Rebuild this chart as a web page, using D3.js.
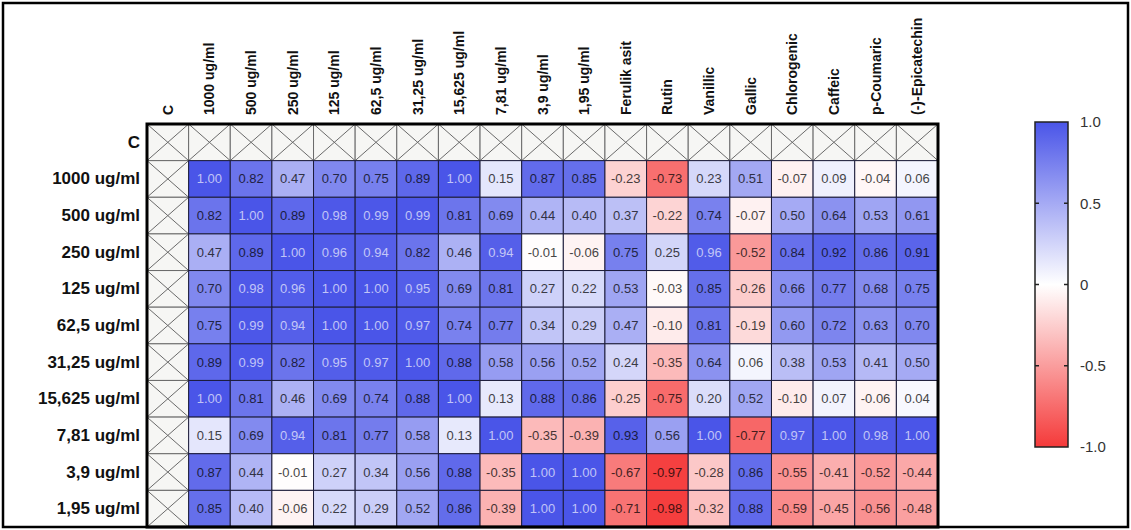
<!DOCTYPE html>
<html>
<head>
<meta charset="utf-8">
<script src="https://cdn.jsdelivr.net/npm/d3@7"></script>
<style>
html,body{margin:0;padding:0;background:#fff;}
svg{display:block;font-family:Arial,"Liberation Sans",sans-serif;}
</style>
</head>
<body>
<svg id="chart" width="1131" height="530"></svg>
<script>
const rowLabels = ["C","1000 ug/ml","500 ug/ml","250 ug/ml","125 ug/ml","62,5 ug/ml","31,25 ug/ml","15,625 ug/ml","7,81 ug/ml","3,9 ug/ml","1,95 ug/ml"];
const colLabels = ["C","1000 ug/ml","500 ug/ml","250 ug/ml","125 ug/ml","62,5 ug/ml","31,25 ug/ml","15,625 ug/ml","7,81 ug/ml","3,9 ug/ml","1,95 ug/ml","Ferulik asit","Rutin","Vanillic","Gallic","Chlorogenic","Caffeic","p-Coumaric","(-)-Epicatechin"];

// values per row (columns after "C")
const r1000  = [1.00,0.82,0.47,0.70,0.75,0.89,1.00,0.15,0.87,0.85,-0.23,-0.73,0.23,0.51,-0.07,0.09,-0.04,0.06];
const r500   = [0.82,1.00,0.89,0.98,0.99,0.99,0.81,0.69,0.44,0.40,0.37,-0.22,0.74,-0.07,0.50,0.64,0.53,0.61];
const r250   = [0.47,0.89,1.00,0.96,0.94,0.82,0.46,0.94,-0.01,-0.06,0.75,0.25,0.96,-0.52,0.84,0.92,0.86,0.91];
const r125   = [0.70,0.98,0.96,1.00,1.00,0.95,0.69,0.81,0.27,0.22,0.53,-0.03,0.85,-0.26,0.66,0.77,0.68,0.75];
const r62_5  = [0.75,0.99,0.94,1.00,1.00,0.97,0.74,0.77,0.34,0.29,0.47,-0.10,0.81,-0.19,0.60,0.72,0.63,0.70];
const r31_25 = [0.89,0.99,0.82,0.95,0.97,1.00,0.88,0.58,0.56,0.52,0.24,-0.35,0.64,0.06,0.38,0.53,0.41,0.50];
const r15_625= [1.00,0.81,0.46,0.69,0.74,0.88,1.00,0.13,0.88,0.86,-0.25,-0.75,0.20,0.52,-0.10,0.07,-0.06,0.04];
const r7_81  = [0.15,0.69,0.94,0.81,0.77,0.58,0.13,1.00,-0.35,-0.39,0.93,0.56,1.00,-0.77,0.97,1.00,0.98,1.00];
const r3_9   = [0.87,0.44,-0.01,0.27,0.34,0.56,0.88,-0.35,1.00,1.00,-0.67,-0.97,-0.28,0.86,-0.55,-0.41,-0.52,-0.44];
const r1_95  = [0.85,0.40,-0.06,0.22,0.29,0.52,0.86,-0.39,1.00,1.00,-0.71,-0.98,-0.32,0.88,-0.59,-0.45,-0.56,-0.48];
const legendTicks = [1.0,0.5,0,-0.5,-1.0];

const rowsData = [null,r1000,r500,r250,r125,r62_5,r31_25,r15_625,r7_81,r3_9,r1_95];

const svg = d3.select("#chart");
const font = 'Arial,"Liberation Sans",sans-serif';

const gx0 = 147, gx1 = 938, gy0 = 124, gy1 = 527;
const x = d3.scaleBand().domain(colLabels).range([gx0, gx1]);
const y = d3.scaleBand().domain(rowLabels).range([gy0, gy1]);
const color = d3.scaleLinear().domain([-1,0,1]).range(["#f53a3a","#ffffff","#4a55e8"]).interpolate(d3.interpolateRgb);

// build cells
const cells = [];
rowLabels.forEach((r,i)=>{
  colLabels.forEach((c,j)=>{
    const v = (i===0||j===0) ? null : rowsData[i][j-1];
    cells.push({r,c,v});
  });
});

const g = svg.append("g");
// crossed cells
const crossed = cells.filter(d=>d.v===null);
g.selectAll("rect.x").data(crossed).join("rect")
  .attr("x",d=>x(d.c)).attr("y",d=>y(d.r))
  .attr("width",x.bandwidth()).attr("height",y.bandwidth())
  .attr("fill","#f6f6f4").attr("stroke","#6a6a6a").attr("stroke-width",1);
g.selectAll("path.x").data(crossed).join("path")
  .attr("d",d=>{
    const a=x(d.c), b=y(d.r), w=x.bandwidth(), h=y.bandwidth();
    return `M${a},${b}L${a+w},${b+h}M${a+w},${b}L${a},${b+h}`;
  })
  .attr("stroke","#6a6a6a").attr("stroke-width",1).attr("fill","none");

// value cells
const vals = cells.filter(d=>d.v!==null);
g.selectAll("rect.v").data(vals).join("rect")
  .attr("x",d=>x(d.c)).attr("y",d=>y(d.r))
  .attr("width",x.bandwidth()).attr("height",y.bandwidth())
  .attr("fill",d=>color(d.v)).attr("stroke","#1c1c3a").attr("stroke-width",1);
g.selectAll("text.v").data(vals).join("text")
  .attr("x",d=>x(d.c)+x.bandwidth()/2).attr("y",d=>y(d.r)+y.bandwidth()/2)
  .attr("text-anchor","middle").attr("dominant-baseline","central")
  .attr("font-size",13).attr("font-family",font)
  .attr("fill",d=> d.v>=0.94 ? d3.interpolateRgb(color(d.v),"#ffffff")(0.65) : d3.interpolateRgb(color(d.v),"#000000")(0.72))
  .text(d=>d.v.toFixed(2));

// thick grid border
svg.append("rect").attr("x",gx0).attr("y",gy0).attr("width",gx1-gx0).attr("height",gy1-gy0)
  .attr("fill","none").attr("stroke","#000").attr("stroke-width",3);

// row labels
svg.selectAll("text.row").data(rowLabels).join("text")
  .attr("x",gx0-7).attr("y",d=>y(d)+y.bandwidth()/2)
  .attr("text-anchor","end").attr("dominant-baseline","central")
  .attr("font-size",17).attr("font-weight","bold").attr("font-family",font).attr("fill","#111")
  .text(d=>d);

// column labels
svg.selectAll("text.col").data(colLabels).join("text")
  .attr("transform",d=>`translate(${x(d)+x.bandwidth()/2},${gy0-9}) rotate(-90)`)
  .attr("text-anchor","start").attr("dominant-baseline","central")
  .attr("font-size",14).attr("font-weight","bold").attr("font-family",font).attr("fill","#111")
  .text(d=>d);

// legend
const ly = d3.scaleLinear().domain([-1,1]).range([447,122]);
const lx0 = 1035, lx1 = 1068;
const defs = svg.append("defs");
const grad = defs.append("linearGradient").attr("id","lg").attr("x1",0).attr("y1",1).attr("x2",0).attr("y2",0);
[-1,-0.5,0,0.5,1].forEach(v=>{
  grad.append("stop").attr("offset",(v+1)/2).attr("stop-color",color(v));
});
svg.append("rect").attr("x",lx0).attr("y",ly(1)).attr("width",lx1-lx0).attr("height",ly(-1)-ly(1))
  .attr("fill","url(#lg)").attr("stroke","#222").attr("stroke-width",1.5);
svg.selectAll("path.lt").data(legendTicks.filter(t=>Math.abs(t)<1)).join("path")
  .attr("d",t=>`M${lx0},${ly(t)}h4M${lx1},${ly(t)}h-4`)
  .attr("stroke","#222").attr("stroke-width",1.5);
const axis = d3.axisRight(ly).tickValues(legendTicks).tickSize(0).tickPadding(12)
  .tickFormat(d=> d===0 ? "0" : d.toFixed(1));
const ag = svg.append("g").attr("transform",`translate(${lx1},0)`).call(axis);
ag.select(".domain").remove();
ag.selectAll("text").attr("font-size",15).attr("font-family",font).attr("fill","#333");

// outer frame
svg.append("rect").attr("x",3).attr("y",3).attr("width",1125).attr("height",524)
  .attr("fill","none").attr("stroke","#000").attr("stroke-width",2.5);
</script>
</body>
</html>
